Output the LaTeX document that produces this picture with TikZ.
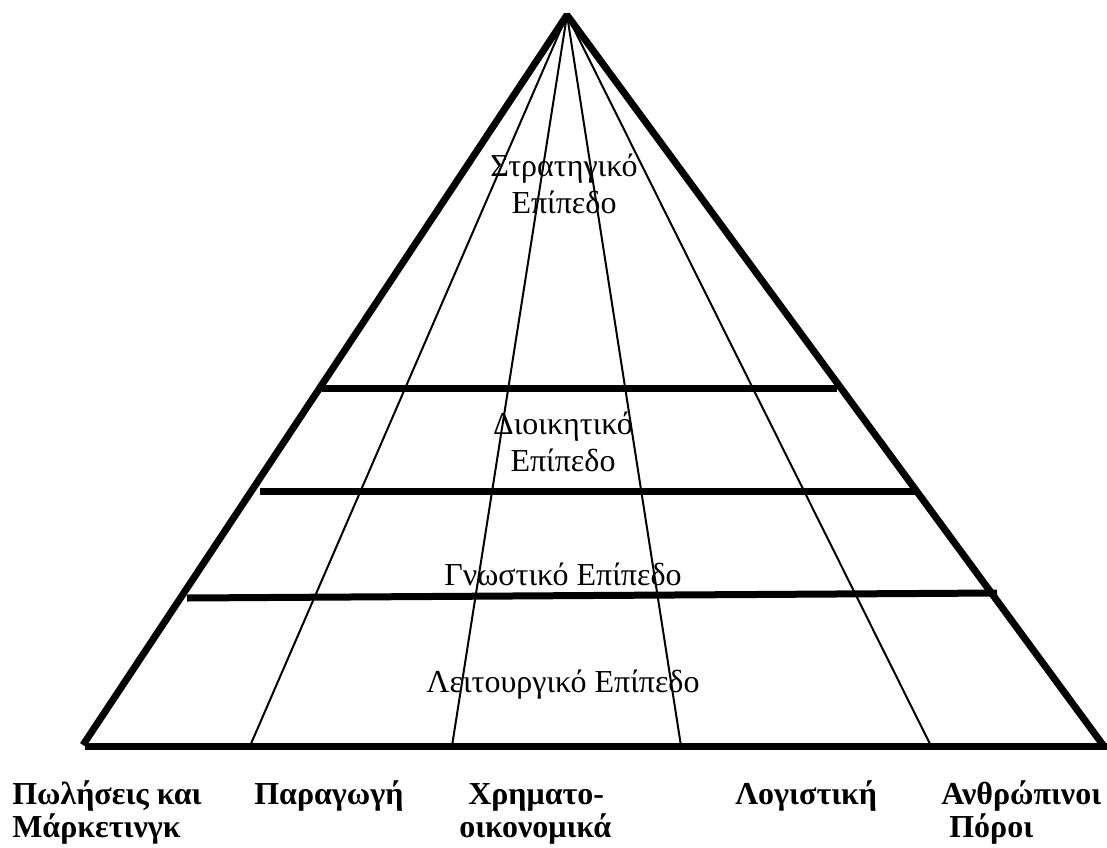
\documentclass[tikz,border=0pt]{standalone}
\usepackage{fontspec}
\setmainfont{Liberation Serif}
\begin{document}
\begin{tikzpicture}[x=0.75pt,y=-0.75pt,
  frame/.style={line width=5.25pt, line join=bevel},
  divider/.style={line width=1.5pt},
  level/.style={align=center, inner sep=0pt, anchor=base,
    font=\fontsize{24}{27.75}\selectfont},
  dept/.style={align=left, inner sep=0pt, anchor=base west,
    font=\fontsize{24}{24.75}\selectfont\bfseries}]
\useasboundingbox (0,0) rectangle (1107,847);

% pyramid outline
\coordinate (apex) at (567,15);
\coordinate (cornerL) at (83,745);
\coordinate (cornerR) at (1103,745);
\coordinate (baseL) at (85,746);
\coordinate (baseR) at (1107,746);
\draw[frame] (cornerL) -- (apex) -- (cornerR);
\draw[line width=5.25pt] (baseL) -- (baseR);

% department dividers from the apex
\coordinate (d1) at (250,746);
\coordinate (d2) at (452,746);
\coordinate (d3) at (681,746);
\coordinate (d4) at (931,746);
\foreach \d in {d1,d2,d3,d4}
  \draw[divider] (apex) -- (\d);

% level separators
\coordinate (s1L) at (322,388);
\coordinate (s1R) at (837,388);
\coordinate (s2L) at (260,491);
\coordinate (s2R) at (918,491);
\coordinate (s3L) at (187,598);
\coordinate (s3R) at (997,593);
\draw[line width=5.25pt] (s1L) -- (s1R);
\draw[line width=5.25pt] (s2L) -- (s2R);
\draw[line width=5.25pt] (s3L) -- (s3R);

% level names (base anchor sits on the last line)
\node[level] (strat) at (564,213) {Στρατηγικό\\Επίπεδο};
\node[level] (admin) at (563,471) {Διοικητικό\\Επίπεδο};
\node[level] (know) at (563,585) {Γνωστικό Επίπεδο};
\node[level] (oper) at (563,692) {Λειτουργικό Επίπεδο};

% department names
\node[dept] (sales) at (12,837) {Πωλήσεις και\\Μάρκετινγκ};
\node[dept] (prod) at (254,804) {Παραγωγή};
\node[dept] (fin1) at (468,804) {Χρηματο-};
\node[dept] (fin2) at (459,837) {οικονομικά};
\node[dept] (acc) at (735,804) {Λογιστική};
\node[dept] (hr) at (941,837) {Ανθρώπινοι\\\ Πόροι};
\end{tikzpicture}
\end{document}
